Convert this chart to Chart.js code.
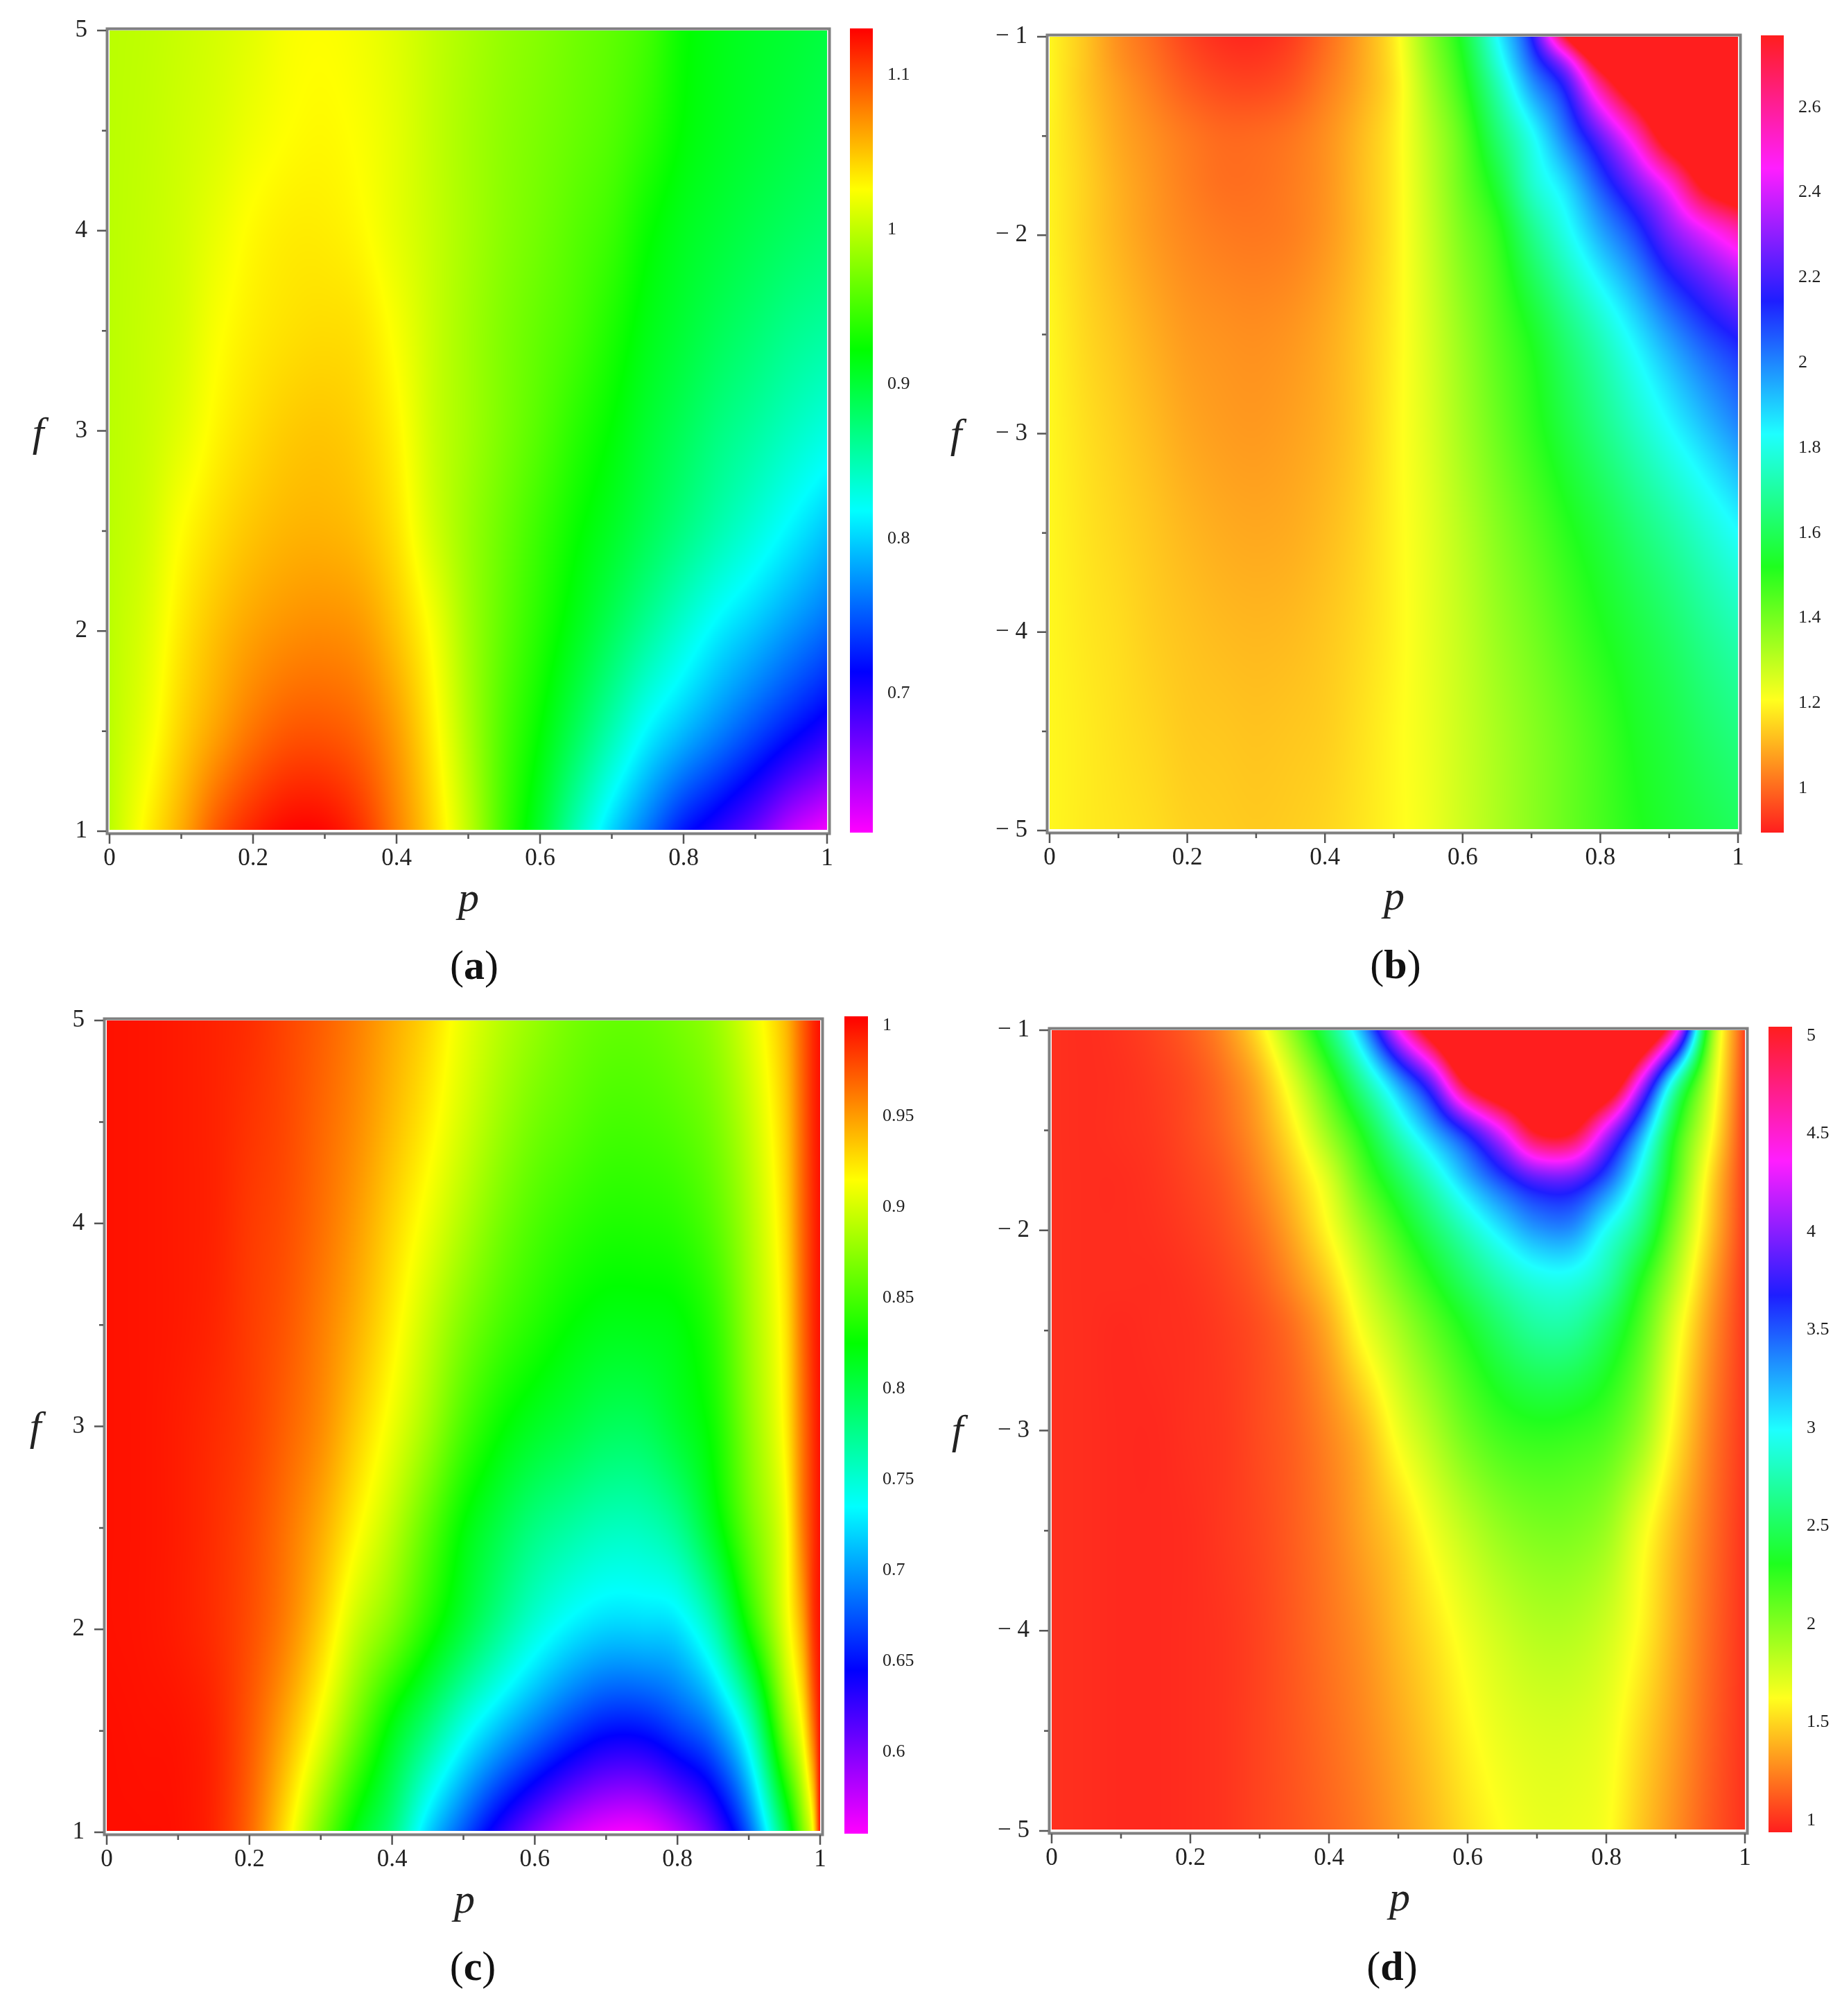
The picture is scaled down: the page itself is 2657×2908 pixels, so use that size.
<!DOCTYPE html>
<html>
<head>
<meta charset="utf-8">
<title>Heat maps</title>
<script src="https://cdn.jsdelivr.net/npm/chart.js@4"></script>
<style>
  html, body { margin:0; padding:0; background:#fff; }
  body { position:relative; width:2657px; height:2908px; overflow:hidden; font-family:"Liberation Serif", serif; color:#222; }
  canvas { position:absolute; }
  .lbl { position:absolute; transform:translate(-50%,-50%); white-space:nowrap; line-height:1; }
  .axis { font-style:italic; font-size:60px; }
  .cap { font-size:60px; color:#111; }
</style>
</head>
<body>
<script>
// --- DATA ---
const pValues = [0,0.05,0.1,0.15,0.2,0.25,0.3,0.35,0.4,0.45,0.5,0.55,0.6,0.65,0.7,0.75,0.8,0.85,0.9,0.95,1];
const pValuesC = [0,0.05,0.1,0.15,0.2,0.25,0.3,0.35,0.4,0.45,0.5,0.55,0.6,0.65,0.7,0.75,0.8,0.85,0.9,0.95,0.975,0.99,1];

const fValuesA = [1,1.5,2,2.5,3,3.5,4,4.5,5];
const fValuesB = [-1,-1.125,-1.25,-1.5,-1.75,-2,-2.5,-3,-3.5,-4,-4.5,-5];
const fValuesC = [1,1.5,2,2.5,3,3.5,4,4.5,5];
const fValuesD = [-1,-1.25,-1.5,-1.75,-2,-2.25,-2.5,-3,-3.5,-4,-4.5,-5];

const valuesA = [
  [0.998,1.03,1.06,1.095,1.116,1.128,1.127,1.11,1.078,1.043,1.0,0.948,0.903,0.849,0.801,0.761,0.722,0.697,0.67,0.635,0.613],
  [0.998,1.018,1.044,1.065,1.083,1.094,1.095,1.087,1.066,1.033,0.992,0.953,0.922,0.886,0.85,0.815,0.79,0.767,0.744,0.721,0.7],
  [0.998,1.012,1.035,1.052,1.064,1.071,1.073,1.068,1.05,1.023,0.988,0.96,0.936,0.911,0.885,0.859,0.834,0.811,0.793,0.774,0.756],
  [0.998,1.007,1.026,1.04,1.05,1.056,1.057,1.052,1.037,1.009,0.985,0.965,0.945,0.925,0.907,0.888,0.869,0.85,0.832,0.813,0.794],
  [0.998,1.004,1.015,1.03,1.04,1.047,1.049,1.044,1.03,1.005,0.988,0.972,0.956,0.938,0.921,0.902,0.886,0.87,0.857,0.843,0.83],
  [0.998,1.003,1.01,1.024,1.033,1.038,1.04,1.037,1.023,1.004,0.988,0.974,0.962,0.95,0.933,0.914,0.9,0.887,0.876,0.865,0.857],
  [0.998,1.002,1.008,1.018,1.028,1.033,1.033,1.028,1.016,1.003,0.99,0.978,0.968,0.957,0.945,0.925,0.91,0.9,0.891,0.883,0.876],
  [0.998,1.001,1.006,1.012,1.02,1.026,1.028,1.024,1.015,1.002,0.99,0.98,0.972,0.964,0.955,0.94,0.921,0.91,0.902,0.895,0.888],
  [0.998,1.0,1.004,1.009,1.015,1.023,1.025,1.021,1.013,1.002,0.992,0.983,0.976,0.968,0.96,0.948,0.925,0.914,0.907,0.902,0.896]
];

const valuesB = [
  [1.198,1.13,1.052,1.0,0.948,0.917,0.912,0.938,1.0,1.078,1.182,1.364,1.546,1.832,2.144,2.768,3.4,3.7,4,4.4,4.8],
  [1.198,1.13,1.06,1.012,0.965,0.936,0.931,0.955,1.012,1.082,1.177,1.346,1.517,1.78,2.056,2.368,2.9,3.2,3.5,3.8,4.2],
  [1.198,1.13,1.073,1.026,0.984,0.958,0.953,0.974,1.026,1.088,1.172,1.328,1.489,1.72,1.967,2.175,2.602,2.95,3.2,3.5,3.8],
  [1.192,1.14,1.088,1.052,1.021,1.0,1.0,1.016,1.052,1.109,1.182,1.302,1.437,1.63,1.816,2.019,2.253,2.529,2.9,3.1,3.3],
  [1.192,1.146,1.099,1.062,1.031,1.01,1.01,1.026,1.057,1.114,1.182,1.291,1.416,1.555,1.754,1.884,2.071,2.258,2.477,2.8,2.97],
  [1.192,1.146,1.104,1.068,1.042,1.026,1.021,1.031,1.062,1.114,1.182,1.281,1.39,1.49,1.66,1.801,1.946,2.082,2.264,2.409,2.539],
  [1.198,1.156,1.125,1.094,1.068,1.057,1.052,1.062,1.088,1.13,1.187,1.265,1.354,1.442,1.53,1.64,1.744,1.858,1.975,2.08,2.16],
  [1.198,1.166,1.14,1.114,1.088,1.073,1.068,1.078,1.099,1.135,1.192,1.255,1.333,1.411,1.489,1.572,1.655,1.738,1.822,1.905,1.988],
  [1.198,1.172,1.151,1.13,1.109,1.094,1.088,1.094,1.114,1.146,1.192,1.244,1.307,1.374,1.437,1.504,1.567,1.634,1.697,1.764,1.832],
  [1.198,1.177,1.161,1.14,1.125,1.114,1.109,1.114,1.13,1.156,1.192,1.239,1.291,1.348,1.4,1.458,1.515,1.567,1.619,1.676,1.728],
  [1.198,1.182,1.166,1.151,1.135,1.13,1.125,1.13,1.14,1.166,1.198,1.234,1.281,1.328,1.374,1.421,1.473,1.53,1.572,1.619,1.66],
  [1.198,1.182,1.172,1.161,1.146,1.14,1.135,1.14,1.151,1.172,1.198,1.229,1.276,1.322,1.369,1.416,1.463,1.51,1.546,1.577,1.608]
];

const valuesC = [
  [1.0,1.0,0.999,0.992,0.969,0.925,0.87,0.818,0.78,0.72,0.675,0.633,0.6,0.575,0.56,0.558,0.578,0.612,0.678,0.794,0.867,0.915,1.0],
  [1.0,0.999,0.998,0.992,0.974,0.945,0.908,0.863,0.818,0.78,0.742,0.712,0.687,0.665,0.65,0.65,0.666,0.69,0.75,0.868,0.915,0.963,1.0],
  [0.999,0.998,0.995,0.989,0.978,0.96,0.932,0.895,0.868,0.835,0.803,0.773,0.747,0.729,0.719,0.719,0.724,0.76,0.83,0.903,0.945,0.984,1.0],
  [0.999,0.998,0.995,0.989,0.98,0.965,0.945,0.918,0.891,0.858,0.824,0.8,0.78,0.768,0.759,0.759,0.774,0.813,0.862,0.909,0.96,0.986,1.0],
  [0.999,0.998,0.995,0.99,0.983,0.971,0.956,0.933,0.909,0.882,0.851,0.828,0.813,0.803,0.794,0.794,0.809,0.83,0.873,0.918,0.963,0.987,1.0],
  [0.999,0.998,0.996,0.992,0.984,0.975,0.961,0.943,0.921,0.895,0.87,0.851,0.837,0.825,0.818,0.818,0.822,0.84,0.879,0.922,0.966,0.989,1.0],
  [0.999,0.998,0.996,0.993,0.985,0.978,0.966,0.95,0.93,0.909,0.887,0.867,0.852,0.842,0.836,0.836,0.84,0.855,0.885,0.927,0.968,0.989,1.0],
  [0.999,0.998,0.996,0.993,0.987,0.98,0.969,0.956,0.939,0.921,0.9,0.881,0.866,0.857,0.85,0.85,0.855,0.867,0.893,0.932,0.969,0.99,1.0],
  [0.999,0.998,0.996,0.993,0.989,0.981,0.972,0.96,0.945,0.929,0.908,0.891,0.878,0.867,0.861,0.861,0.867,0.878,0.903,0.938,0.971,0.99,1.0]
];

const valuesD = [
  [0.997,0.986,1.008,1.054,1.134,1.282,1.555,2.0,2.546,3.275,4.357,5.4,6.5,7,7.5,7.5,7,6,4.5,2.079,1.03],
  [0.997,0.986,0.997,1.031,1.088,1.202,1.396,1.749,2.193,2.728,3.32,4.0,5.2,5.8,6,6,5.7,4.31,2.865,1.817,1.031],
  [0.997,0.986,0.997,1.02,1.077,1.168,1.327,1.589,1.954,2.352,2.82,3.263,3.75,4.35,5.1,5.1,4.24,3.32,2.33,1.669,1.02],
  [0.997,0.986,0.986,1.008,1.054,1.122,1.259,1.464,1.737,2.13,2.47,2.82,3.2,3.55,3.84,3.855,3.48,2.876,2.16,1.532,1.02],
  [0.997,0.986,0.986,0.997,1.031,1.088,1.191,1.373,1.623,1.931,2.227,2.523,2.81,3.08,3.3,3.32,2.97,2.59,2.0,1.464,1.02],
  [0.997,0.986,0.986,0.986,1.008,1.054,1.134,1.282,1.487,1.783,2.045,2.295,2.546,2.762,2.91,2.92,2.73,2.307,1.84,1.373,1.008],
  [0.997,0.986,0.974,0.986,0.997,1.031,1.088,1.191,1.373,1.657,1.885,2.113,2.329,2.535,2.683,2.68,2.48,2.15,1.703,1.305,1.008],
  [0.997,0.986,0.974,0.974,0.997,1.02,1.077,1.145,1.259,1.418,1.669,1.874,2.079,2.216,2.27,2.25,2.17,1.942,1.566,1.236,1.008],
  [0.997,0.986,0.974,0.974,0.986,1.02,1.065,1.134,1.225,1.35,1.487,1.669,1.828,1.954,2.022,2.022,1.931,1.68,1.418,1.191,0.997],
  [0.997,0.986,0.974,0.974,0.986,1.008,1.054,1.122,1.202,1.293,1.418,1.544,1.68,1.783,1.851,1.851,1.771,1.6,1.373,1.168,0.997],
  [0.997,0.986,0.974,0.974,0.986,1.008,1.054,1.111,1.179,1.259,1.361,1.475,1.6,1.692,1.737,1.737,1.68,1.51,1.327,1.145,0.997],
  [0.997,0.986,0.974,0.974,0.986,1.008,1.054,1.099,1.156,1.225,1.316,1.418,1.532,1.623,1.68,1.68,1.635,1.453,1.282,1.122,0.997]
];

const pTicks = [0,0.1,0.2,0.3,0.4,0.5,0.6,0.7,0.8,0.9,1];
const fTicksPos = [1,1.5,2,2.5,3,3.5,4,4.5,5];
const fTicksNeg = [-5,-4.5,-4,-3.5,-3,-2.5,-2,-1.5,-1];

const barTicksA = [0.7,0.8,0.9,1,1.1];
const barTicksB = [1,1.2,1.4,1.6,1.8,2,2.2,2.4,2.6];
const barTicksC = [0.6,0.65,0.7,0.75,0.8,0.85,0.9,0.95,1];
const barTicksD = [1,1.5,2,2.5,3,3.5,4,4.5,5];

const barRangeA = [0.61,1.13];
const barRangeB = [0.896,2.769];
const barRangeC = [0.555,1.005];
const barRangeD = [0.94,5.046];

// --- PANEL PLACEMENT ---
const panels = [
  { p:pValues, f:fValuesA, z:valuesA, pTicks, fTicks:fTicksPos, barTicks:barTicksA, range:barRangeA, hue:300, floor:0,
    x0:158, x1:1193, yT:44, yB:1199, bar:[1226,1259,41,1201], pLbl:[676,1294], fLbl:[55,623], cap:[684,1392,'a'] },
  { p:pValues, f:fValuesB, z:valuesB, pTicks, fTicks:fTicksNeg, barTicks:barTicksB, range:barRangeB, hue:360, floor:30,
    x0:1514, x1:2507, yT:53, yB:1198, bar:[2540,2573,51,1201], pLbl:[2011,1292], fLbl:[1379,625], cap:[2013,1391,'b'] },
  { p:pValuesC, f:fValuesC, z:valuesC, pTicks, fTicks:fTicksPos, barTicks:barTicksC, range:barRangeC, hue:300, floor:0,
    x0:154, x1:1183, yT:1472, yB:2643, bar:[1218,1252,1466,2645], pLbl:[670,2739], fLbl:[51,2057], cap:[682,2836,'c'] },
  { p:pValues, f:fValuesD, z:valuesD, pTicks, fTicks:fTicksNeg, barTicks:barTicksD, range:barRangeD, hue:360, floor:30,
    x0:1517, x1:2517, yT:1486, yB:2641, bar:[2551,2585,1481,2643], pLbl:[2019,2736], fLbl:[1381,2062], cap:[2008,2836,'d'] }
];

const SERIF = '"Liberation Serif", serif';

// hue runs linearly with value: magenta to red for a,c / the full wheel for b,d
function hueColor(h, floor) {
  const s = ((h % 360) + 360) % 360 / 60;
  const c = Math.floor(s), t = s - c;
  let rgb;
  if (c === 0) rgb = [1, t, 0];
  else if (c === 1) rgb = [1 - t, 1, 0];
  else if (c === 2) rgb = [0, 1, t];
  else if (c === 3) rgb = [0, 1 - t, 1];
  else if (c === 4) rgb = [t, 0, 1];
  else rgb = [1, 0, 1 - t];
  return rgb.map(v => Math.round(floor + v * (255 - floor)));
}
function valueHue(v, panel) {
  const [lo, hi] = panel.range;
  const t = Math.min(Math.max((v - lo) / (hi - lo), 0), 1);
  return panel.hue === 300 ? 300 * (1 - t) : 360 * t;
}

// shading weights for one pixel between grid nodes (smooth, grid values stay as read)
function shadeWeights(grid, v) {
  const n = grid.length;
  let i = n - 2;
  for (let k = 0; k < n - 1; k++) {
    if ((grid[k] - v) * (grid[k + 1] - v) <= 0) { i = k; break; }
  }
  const dx = grid[i + 1] - grid[i], t = (v - grid[i]) / dx;
  const h00 = 2*t*t*t - 3*t*t + 1, h10 = t*t*t - 2*t*t + t, h01 = -2*t*t*t + 3*t*t, h11 = t*t*t - t*t;
  const w = new Map();
  const add = (idx, val) => w.set(idx, (w.get(idx) || 0) + val);
  add(i, h00); add(i + 1, h01);
  const a0 = i > 0 ? i - 1 : i;
  const m0 = h10 * dx / (grid[i + 1] - grid[a0]);
  add(i + 1, m0); add(a0, -m0);
  const b1 = i + 2 < n ? i + 2 : i + 1;
  const m1 = h11 * dx / (grid[b1] - grid[i]);
  add(b1, m1); add(i, -m1);
  return [...w.entries()];
}

function addLabel(cls, x, y, html) {
  const d = document.createElement('div');
  d.className = 'lbl ' + cls;
  d.style.left = x + 'px';
  d.style.top = y + 'px';
  d.innerHTML = html;
  document.body.appendChild(d);
}

// paints the grid through the chart's scales and draws the frame and tick marks
function heatPlugin(panel) {
  return {
    id: 'heat',
    beforeDatasetsDraw(chart) {
      const { ctx, chartArea: a, scales } = chart;
      const w = Math.round(a.right - a.left), h = Math.round(a.bottom - a.top);
      const img = ctx.createImageData(w, h);
      const cols = [];
      for (let i = 0; i < w; i++) cols.push(shadeWeights(panel.p, scales.x.getValueForPixel(a.left + i + 0.5)));
      let k = 0;
      const nCols = panel.p.length;
      const line = new Float64Array(nCols);
      for (let j = 0; j < h; j++) {
        const rw = shadeWeights(panel.f, scales.y.getValueForPixel(a.top + j + 0.5));
        for (let c = 0; c < nCols; c++) {
          let s = 0;
          for (const [r, wt] of rw) s += wt * panel.z[r][c];
          line[c] = s;
        }
        for (let i = 0; i < w; i++) {
          let s = 0;
          for (const [c, wt] of cols[i]) s += wt * line[c];
          const col = hueColor(valueHue(s, panel), panel.floor);
          img.data[k++] = col[0]; img.data[k++] = col[1]; img.data[k++] = col[2]; img.data[k++] = 255;
        }
      }
      ctx.putImageData(img, Math.round(a.left), Math.round(a.top));
    },
    afterDraw(chart) {
      const { ctx, chartArea: a, scales } = chart;
      ctx.save();
      // white edge along the left and bottom, then the grey box
      ctx.fillStyle = '#fff';
      ctx.fillRect(a.left - 2, a.top, 2, a.bottom - a.top + 4);
      ctx.fillRect(a.left - 2, a.bottom - 2, a.right - a.left + 5, 6);
      ctx.strokeStyle = '#808080';
      ctx.lineWidth = 4;
      ctx.strokeRect(a.left - 3.5, a.top - 2.5, a.right - a.left + 7, a.bottom - a.top + 6);
      ctx.strokeStyle = '#555';
      ctx.lineWidth = 2.5;
      ctx.beginPath();
      panel.pTicks.forEach((v, i) => {
        const x = scales.x.getPixelForValue(v);
        ctx.moveTo(x, a.bottom + 4);
        ctx.lineTo(x, a.bottom + (i % 2 === 0 ? 18 : 11));
      });
      panel.fTicks.forEach(v => {
        const y = scales.y.getPixelForValue(v);
        ctx.moveTo(a.left - 5, y);
        ctx.lineTo(a.left - (Number.isInteger(v) ? 18 : 11), y);
      });
      ctx.stroke();
      ctx.restore();
    }
  };
}

function drawHeat(panel) {
  const lm = 150, bm = 70, tm = 30, rm = 30;
  const cv = document.createElement('canvas');
  const width = panel.x1 - panel.x0 + lm + rm, height = panel.yB - panel.yT + tm + bm;
  cv.width = width; cv.height = height;
  cv.style.left = (panel.x0 - lm) + 'px';
  cv.style.top = (panel.yT - tm) + 'px';
  cv.style.width = width + 'px';
  cv.style.height = height + 'px';
  document.body.appendChild(cv);

  const points = [];
  panel.f.forEach((f, r) => panel.p.forEach((p, c) => points.push({ x:p, y:f, v:panel.z[r][c] })));

  new Chart(cv.getContext('2d'), {
    type: 'scatter',
    data: { datasets: [{ data: points, pointRadius: 0, showLine: false }] },
    plugins: [heatPlugin(panel)],
    options: {
      responsive: false, animation: false, devicePixelRatio: 1,
      layout: { padding: { top: tm, right: rm, left: 0, bottom: 0 } },
      plugins: { legend: { display: false }, tooltip: { enabled: false } },
      scales: {
        x: {
          type: 'linear', min: 0, max: 1,
          grid: { display: false }, border: { display: false },
          afterFit: s => { s.height = bm; s.paddingLeft = 0; s.paddingRight = 0; },
          afterBuildTicks: s => { s.ticks = panel.pTicks.map(v => ({ value: v })); },
          ticks: {
            autoSkip: false, maxRotation: 0, padding: 11, color: '#222', font: { family: SERIF, size: 35 },
            callback: v => { const t = Math.round(v * 10); return t % 2 === 0 ? String(t / 10) : ''; }
          }
        },
        y: {
          type: 'linear', min: Math.min(...panel.f), max: Math.max(...panel.f),
          grid: { display: false }, border: { display: false },
          afterFit: s => { s.width = lm; s.paddingTop = 0; s.paddingBottom = 0; },
          afterBuildTicks: s => { s.ticks = panel.fTicks.map(v => ({ value: v })); },
          ticks: {
            autoSkip: false, padding: 24, color: '#222', font: { family: SERIF, size: 35 },
            callback: v => Number.isInteger(v) ? (v < 0 ? '\u2212 ' + (-v) : String(v)) : ''
          }
        }
      }
    }
  });
}

function drawBar(panel) {
  const [bx0, bx1, by0, by1] = panel.bar;
  const labelW = 80, pad = 20;
  const cv = document.createElement('canvas');
  const width = bx1 - bx0 + labelW, height = by1 - by0 + pad * 2;
  cv.width = width; cv.height = height;
  cv.style.left = bx0 + 'px';
  cv.style.top = (by0 - pad) + 'px';
  cv.style.width = width + 'px';
  cv.style.height = height + 'px';
  document.body.appendChild(cv);

  new Chart(cv.getContext('2d'), {
    type: 'bar',
    data: {
      labels: [''],
      datasets: [{
        data: [panel.range],
        categoryPercentage: 1, barPercentage: 1,
        backgroundColor: c => {
          const a = c.chart.chartArea;
          if (!a) return '#f00';
          const g = c.chart.ctx.createLinearGradient(0, a.bottom, 0, a.top);
          for (let i = 0; i <= 60; i++) {
            const v = panel.range[0] + (panel.range[1] - panel.range[0]) * i / 60;
            const col = hueColor(valueHue(v, panel), panel.floor);
            g.addColorStop(i / 60, `rgb(${col[0]},${col[1]},${col[2]})`);
          }
          return g;
        }
      }]
    },
    options: {
      responsive: false, animation: false, devicePixelRatio: 1,
      layout: { padding: { top: pad, bottom: pad, left: 0, right: 0 } },
      plugins: { legend: { display: false }, tooltip: { enabled: false } },
      scales: {
        x: { display: false },
        y: {
          position: 'right', min: panel.range[0], max: panel.range[1],
          grid: { display: false }, border: { display: false },
          afterFit: s => { s.width = labelW; s.paddingTop = 0; s.paddingBottom = 0; },
          afterBuildTicks: s => { s.ticks = panel.barTicks.map(v => ({ value: v })); },
          ticks: { autoSkip: false, padding: 13, color: '#222', font: { family: SERIF, size: 26 }, callback: v => String(v) }
        }
      }
    }
  });
}

panels.forEach(pn => {
  drawHeat(pn);
  drawBar(pn);
  addLabel('axis', pn.pLbl[0], pn.pLbl[1], 'p');
  addLabel('axis', pn.fLbl[0], pn.fLbl[1], 'f');
  addLabel('cap', pn.cap[0], pn.cap[1], '(<b>' + pn.cap[2] + '</b>)');
});
</script>
</body>
</html>
